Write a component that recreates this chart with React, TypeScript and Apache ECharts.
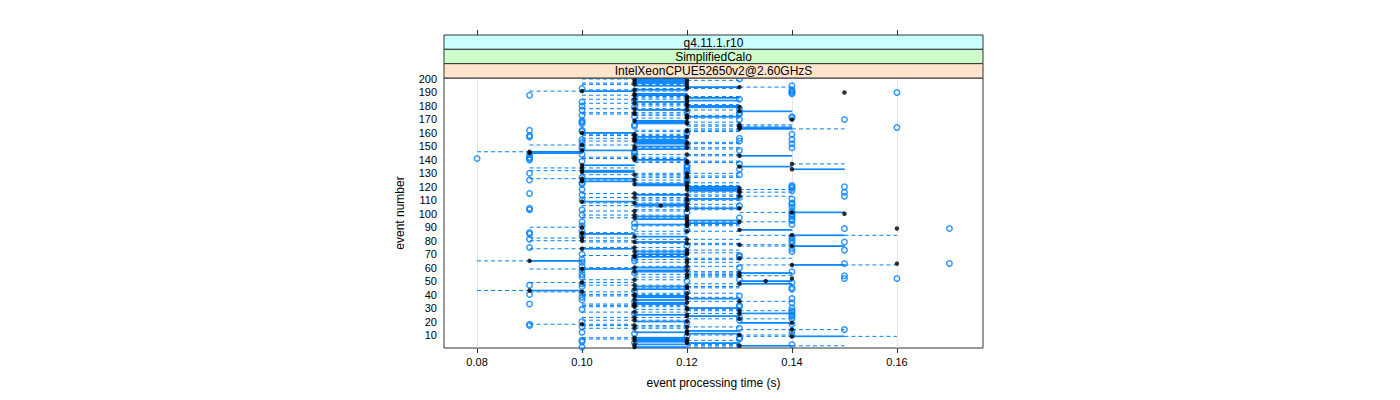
import React, { useEffect, useRef } from "react";
import * as echarts from "echarts";

const stripLabels = ["g4.11.1.r10", "SimplifiedCalo", "IntelXeonCPUE52650v2@2.60GHzS"];
const stripColors = ["#ccffff", "#ccffcc", "#ffe5cc"];
const xTicks = [0.08, 0.1, 0.12, 0.14, 0.16];
const yTicks = [10, 20, 30, 40, 50, 60, 70, 80, 90, 100, 110, 120, 130, 140, 150, 160, 170, 180, 190, 200];
const xTitle = "event processing time (s)";
const yTitle = "event number";

// rows run from event 200 (first) down to event 1 (last)
const firstEvent = 200;
// [lower whisker, Q1, median, Q3, upper whisker], in units of 10 ms
const boxStats: number[][] = [
  // 200-191
  [10, 11, 11, 12, 12], [11, 11, 12, 12, 13], [11, 11, 11, 12, 12], [10, 11, 12, 12, 12], [10, 11, 11, 11, 12],
  [11, 11, 12, 12, 12], [12, 12, 13, 13, 14], [11, 12, 12, 12, 13], [10, 11, 11, 12, 12], [9, 10, 10, 11, 12],
  // 190-181
  [15, 15, 15, 15, 15], [11, 11, 11, 12, 12], [10, 11, 11, 12, 12], [11, 12, 12, 12, 13], [11, 12, 12, 13, 13],
  [10, 11, 11, 11, 12], [12, 12, 12, 13, 13], [11, 11, 12, 12, 12], [10, 11, 11, 11, 12], [11, 12, 12, 12, 13],
  // 180-171
  [11, 12, 12, 13, 13], [12, 12, 13, 13, 13], [10, 11, 11, 11, 12], [11, 11, 12, 12, 13], [13, 13, 13, 14, 14],
  [10, 11, 11, 11, 12], [10, 11, 11, 11, 12], [11, 12, 12, 12, 13], [12, 12, 12, 13, 13], [11, 12, 12, 12, 13],
  // 170-161
  [14, 14, 14, 14, 14], [11, 11, 11, 12, 12], [11, 11, 12, 12, 13], [11, 11, 12, 12, 12], [12, 13, 13, 13, 14],
  [12, 13, 13, 13, 14], [13, 13, 13, 14, 14], [12, 13, 13, 14, 15], [11, 12, 12, 12, 13], [11, 12, 12, 12, 13],
  // 160-151
  [10, 10, 10, 11, 11], [10, 11, 11, 11, 12], [10, 11, 11, 11, 12], [11, 11, 12, 12, 12], [10, 11, 11, 11, 12],
  [11, 11, 11, 12, 12], [10, 11, 11, 12, 12], [11, 11, 12, 12, 13], [11, 11, 12, 12, 13], [9, 10, 10, 10, 11],
  // 150-141
  [11, 11, 11, 12, 12], [11, 12, 12, 12, 13], [11, 11, 11, 12, 13], [10, 10, 10, 11, 11], [8, 9, 9, 10, 10],
  [9, 9, 9, 10, 10], [11, 12, 12, 12, 13], [12, 13, 13, 14, 14], [10, 11, 11, 11, 12], [10, 11, 11, 11, 12],
  // 140-131
  [11, 11, 11, 12, 12], [11, 12, 12, 12, 13], [11, 12, 12, 12, 13], [14, 14, 14, 14, 15], [10, 10, 10, 11, 11],
  [13, 13, 13, 14, 14], [9, 10, 10, 10, 11], [14, 14, 14, 15, 15], [9, 10, 10, 11, 11], [10, 10, 10, 11, 11],
  // 130-121
  [11, 12, 12, 12, 13], [10, 11, 11, 11, 12], [11, 12, 12, 12, 13], [11, 12, 12, 12, 13], [9, 10, 10, 11, 11],
  [10, 11, 11, 11, 12], [10, 10, 10, 11, 11], [11, 12, 12, 12, 13], [11, 11, 11, 12, 12], [11, 11, 12, 12, 13],
  // 120-111
  [12, 12, 12, 13, 13], [12, 12, 13, 13, 13], [12, 12, 12, 13, 14], [12, 12, 13, 13, 13], [12, 13, 13, 13, 14],
  [10, 11, 11, 11, 12], [11, 11, 12, 12, 13], [12, 13, 13, 13, 14], [10, 11, 11, 11, 12], [11, 12, 12, 13, 13],
  // 110-101
  [11, 12, 12, 12, 13], [10, 10, 10, 11, 11], [10, 11, 11, 11, 12], [11, 11, 12, 12, 13], [10, 11, 11.5, 12, 12],
  [11, 12, 12, 12, 13], [12, 12, 13, 13, 13], [11, 12, 12, 12, 13], [10, 11, 11, 11, 12], [13, 14, 14, 15, 15],
  // 100-91
  [15, 15, 15, 15, 15], [10, 11, 11, 11, 12], [11, 11, 12, 12, 12], [10, 11, 11, 11, 12], [11, 11, 12, 12, 12],
  [12, 12, 12, 13, 13], [12, 13, 13, 13, 14], [12, 12, 12, 13, 13], [11, 11, 12, 12, 13], [11, 12, 12, 12, 13],
  // 90-81
  [9, 10, 10, 10, 10], [16, 16, 16, 16, 16], [13, 13, 13, 14, 14], [11, 12, 12, 12, 13], [10, 10, 10, 10, 11],
  [10, 10, 10, 11, 12], [13, 14, 14, 15, 16], [11, 11, 11, 12, 12], [9, 10, 10, 10, 11], [11, 12, 12, 12, 13],
  // 80-71
  [9, 10, 10, 10, 11], [10, 11, 11, 12, 12], [11, 12, 12, 12, 13], [12, 13, 13, 13, 14], [13, 14, 14, 15, 15],
  [10, 11, 11, 11, 12], [9, 10, 10, 11, 11], [11, 12, 12, 12, 13], [11, 11, 11, 12, 12], [11, 12, 12, 12, 13],
  // 70-61
  [11, 11, 12, 12, 12], [10, 11, 11, 11, 12], [11, 11, 11, 12, 12], [12, 13, 13, 13, 14], [11, 12, 12, 12, 13],
  [8, 9, 9, 10, 10], [11, 12, 12, 12, 13], [16, 16, 16, 16, 16], [13, 14, 14, 15, 16], [11, 12, 12, 12, 13],
  // 60-51
  [10, 11, 11, 12, 12], [9, 10, 10, 11, 11], [11, 11, 12, 12, 12], [11, 11, 11, 12, 13], [12, 13, 13, 14, 14],
  [11, 12, 12, 12, 13], [12, 13, 13, 13, 14], [11, 12, 12, 12, 13], [14, 14, 14, 14, 14], [10, 11, 11, 11, 12],
  // 50-41
  [13, 13, 13.5, 14, 14], [9, 10, 10, 10, 11], [12, 13, 13, 14, 14], [10, 11, 11, 11, 12], [11, 11, 12, 12, 13],
  [11, 12, 12, 12, 13], [11, 11, 11, 12, 12], [8, 9, 9, 10, 10], [9, 10, 10, 10, 11], [11, 12, 12, 12, 13],
  // 40-31
  [10, 11, 11, 11, 12], [10, 11, 11, 12, 12], [11, 11, 12, 12, 13], [12, 12, 12, 13, 13], [11, 11, 11, 12, 12],
  [12, 13, 13, 13, 14], [11, 11, 12, 12, 12], [10, 11, 11, 12, 12], [10, 11, 11, 11, 12], [10, 11, 11, 11, 12],
  // 30-21
  [12, 12, 12, 13, 13], [11, 12, 12, 12, 13], [12, 13, 13, 13, 14], [10, 11, 11, 11, 12], [12, 13, 13, 14, 14],
  [11, 11, 12, 12, 12], [12, 12, 12, 13, 13], [10, 11, 11, 11, 12], [12, 13, 13, 13, 14], [10, 11, 11, 11, 12],
  // 20-11
  [11, 11, 12, 12, 12], [13, 13, 14, 14, 14], [9, 10, 10, 10, 11], [10, 11, 11, 11, 12], [11, 12, 12, 12, 13],
  [10, 11, 11, 11, 12], [13, 14, 14, 14, 15], [12, 12, 12, 13, 13], [11, 11, 12, 12, 12], [12, 12, 12, 13, 13],
  // 10-1
  [12, 13, 13, 13, 14], [13, 14, 14, 15, 16], [10, 11, 11, 12, 12], [10, 11, 12, 12, 12], [11, 11, 11, 12, 13],
  [11, 11, 12, 12, 12], [12, 12, 12, 13, 13], [11, 11, 11, 12, 13], [12, 13, 13, 14, 15], [11, 11, 11, 12, 13],
];

// [event, time in units of 10 ms]
const outlierPoints: number[][] = [
  [200, 13], [195, 14], [193, 10], [192, 14], [191, 14], [190, 14], [190, 16], [189, 14],
  [188, 9], [185, 13], [184, 11], [183, 10], [180, 10], [179, 11], [178, 13], [177, 10], [176, 12], [175, 13],
  [174, 13], [173, 10], [172, 11], [172, 14], [171, 14], [170, 13], [170, 15], [169, 10], [168, 10], [167, 10],
  [166, 11], [165, 11], [164, 16], [162, 9], [162, 10], [161, 10], [160, 12], [159, 14], [158, 9],
  [157, 9], [156, 13], [155, 10], [155, 14], [154, 13], [153, 10], [152, 14], [151, 12], [150, 10], [149, 14],
  [148, 10], [147, 13], [146, 11], [145, 11], [144, 9], [144, 10], [143, 11], [142, 9], [141, 8], [141, 9],
  [140, 9], [139, 10], [137, 13], [136, 12], [135, 12], [134, 12], [133, 13], [132, 12], [131, 12], [130, 9],
  [129, 13], [127, 10], [126, 12], [125, 9], [124, 12], [123, 10], [122, 10], [121, 14], [120, 14], [120, 15],
  [119, 14], [118, 10], [117, 14], [116, 15], [115, 9], [114, 10], [113, 15], [112, 13], [111, 14],
  [110, 10], [109, 12], [108, 14], [107, 14], [106, 13], [105, 14], [104, 9], [103, 9], [103, 10], [102, 14],
  [101, 12], [100, 14], [99, 10], [99, 14], [98, 14], [97, 13], [96, 14], [95, 14], [94, 10], [93, 11],
  [92, 14], [91, 10], [90, 11], [89, 15], [89, 17], [88, 12], [87, 10], [86, 9], [85, 9], [84, 10],
  [83, 14], [82, 14], [81, 9], [80, 14], [79, 15], [78, 14], [76, 12], [75, 9], [74, 14], [73, 15],
  [72, 14], [70, 10], [69, 13], [68, 13], [67, 11], [66, 10], [65, 11], [64, 10], [63, 15], [63, 17],
  [61, 10], [60, 13], [59, 12], [58, 10], [57, 14], [56, 11], [55, 10], [54, 15], [53, 10], [52, 15],
  [52, 16], [51, 13], [50, 12], [49, 14], [48, 10], [47, 9], [46, 10], [45, 14], [44, 14], [43, 11],
  [42, 12], [41, 10], [40, 9], [39, 13], [38, 10], [37, 14], [36, 10], [35, 11], [34, 14], [33, 9],
  [32, 13], [31, 13], [30, 14], [29, 10], [28, 14], [27, 14], [26, 11], [25, 14], [24, 14], [23, 13],
  [22, 14], [21, 13], [20, 10], [19, 12], [18, 9], [18, 14], [17, 9], [16, 10], [15, 13], [14, 15],
  [13, 14], [12, 10], [11, 11], [10, 14], [9, 12], [8, 13], [7, 13], [6, 10], [5, 10], [4, 11],
  [3, 14], [1, 10],
];

const BLUE = "#0080ff";
const FONT = "'Liberation Sans', Arial, Helvetica, sans-serif";

export default function App() {
  const ref = useRef<HTMLDivElement>(null);

  useEffect(() => {
    document.body.style.margin = "0";
    const chart = echarts.init(ref.current!, null, { renderer: "svg" });

    const boxData = boxStats.map((r, i) => [firstEvent - i, ...r.map((v) => v / 100)]);
    const medianData = boxStats.map((r, i) => [r[2] / 100, firstEvent - i]);
    const outlierData = outlierPoints.map(([e, v]) => [v / 100, e]);

    const left = 444, top = 78, width = 539, height = 270;
    const stripH = (top - 35) / 3;

    const graphics: any[] = [];
    stripLabels.forEach((label, i) => {
      const y = 35 + i * stripH;
      graphics.push({
        type: "rect",
        shape: { x: left, y, width, height: stripH },
        style: { fill: stripColors[i], stroke: "#333", lineWidth: 1 },
        z: 10,
      });
      graphics.push({
        type: "text",
        x: left + width / 2,
        y: y + stripH / 2 + 0.5,
        style: { text: label, fill: "#000", font: `12px ${FONT}`, textAlign: "center", textVerticalAlign: "middle" },
        z: 11,
      });
    });
    graphics.push({
      type: "text",
      x: left + width / 2,
      y: 383,
      style: { text: xTitle, fill: "#000", font: `12px ${FONT}`, textAlign: "center", textVerticalAlign: "middle" },
    });
    graphics.push({
      type: "text",
      x: 400,
      y: top + height / 2,
      rotation: Math.PI / 2,
      style: { text: yTitle, fill: "#000", font: `12px ${FONT}`, textAlign: "center", textVerticalAlign: "middle" },
    });

    const xMin = 0.0737, xMax = 0.1764;

    chart.setOption({
      animation: false,
      backgroundColor: "#fff",
      grid: { left, top, width, height, show: true, borderColor: "#333", borderWidth: 1, backgroundColor: "transparent" },
      xAxis: [
        {
          type: "value",
          min: xMin,
          max: xMax,
          axisLine: { show: false },
          axisTick: { show: true, length: 5, customValues: xTicks, lineStyle: { color: "#333" } },
          axisLabel: {
            customValues: xTicks,
            margin: 8,
            color: "#000",
            fontFamily: FONT,
            fontSize: 11,
            formatter: (v: number) => v.toFixed(2),
          },
          splitLine: { show: false },
        },
        {
          type: "value",
          position: "top",
          offset: top - 35,
          min: xMin,
          max: xMax,
          axisLine: { show: false },
          axisTick: { show: true, length: 5, customValues: xTicks, lineStyle: { color: "#333" } },
          axisLabel: { show: false, customValues: xTicks },
          splitLine: { show: false },
        },
      ],
      yAxis: {
        type: "value",
        min: 0.35,
        max: 200.75,
        axisLine: { show: false },
        axisTick: { show: false, customValues: yTicks },
        axisLabel: { customValues: yTicks, margin: 7, color: "#000", fontFamily: FONT, fontSize: 11 },
        splitLine: { show: false },
      },
      graphic: graphics,
      series: [
        {
          type: "scatter",
          data: [],
          silent: true,
          z: 1,
          markLine: {
            silent: true,
            symbol: "none",
            z: 1,
            label: { show: false },
            lineStyle: { color: "#e6e6e6", type: "solid", width: 1 },
            data: xTicks.map((v) => ({ xAxis: v })),
          },
        },
        {
          type: "custom",
          z: 2,
          silent: true,
          data: boxData,
          encode: { x: [1, 2, 3, 4, 5], y: 0 },
          renderItem: (params: any, api: any) => {
            const ev = api.value(0);
            const pLo = api.coord([api.value(1), ev]);
            const pQ1 = api.coord([api.value(2), ev]);
            const pQ3 = api.coord([api.value(4), ev]);
            const pHi = api.coord([api.value(5), ev]);
            const halfH = api.size([0, 0.5])[1] / 2;
            const dash = { stroke: BLUE, lineWidth: 1, lineDash: [4, 3] };
            const children: any[] = [
              { type: "line", shape: { x1: pLo[0], y1: pLo[1], x2: pQ1[0], y2: pQ1[1] }, style: dash },
              { type: "line", shape: { x1: pQ3[0], y1: pQ3[1], x2: pHi[0], y2: pHi[1] }, style: dash },
            ];
            if (pQ3[0] > pQ1[0]) {
              children.push({
                type: "rect",
                shape: { x: pQ1[0], y: pQ1[1] - halfH, width: pQ3[0] - pQ1[0], height: halfH * 2 },
                style: { fill: "none", stroke: BLUE, lineWidth: 1 },
              });
            }
            return { type: "group", children };
          },
        },
        {
          type: "scatter",
          z: 3,
          silent: true,
          data: outlierData,
          symbol: "circle",
          symbolSize: 5.5,
          itemStyle: { color: "rgba(0,0,0,0)", borderColor: BLUE, borderWidth: 1.5 },
        },
        {
          type: "scatter",
          z: 4,
          silent: true,
          data: medianData,
          symbol: "circle",
          symbolSize: 4.5,
          itemStyle: { color: "#000" },
        },
      ],
    });

    return () => chart.dispose();
  }, []);

  return <div ref={ref} style={{ width: 1400, height: 400 }} />;
}
